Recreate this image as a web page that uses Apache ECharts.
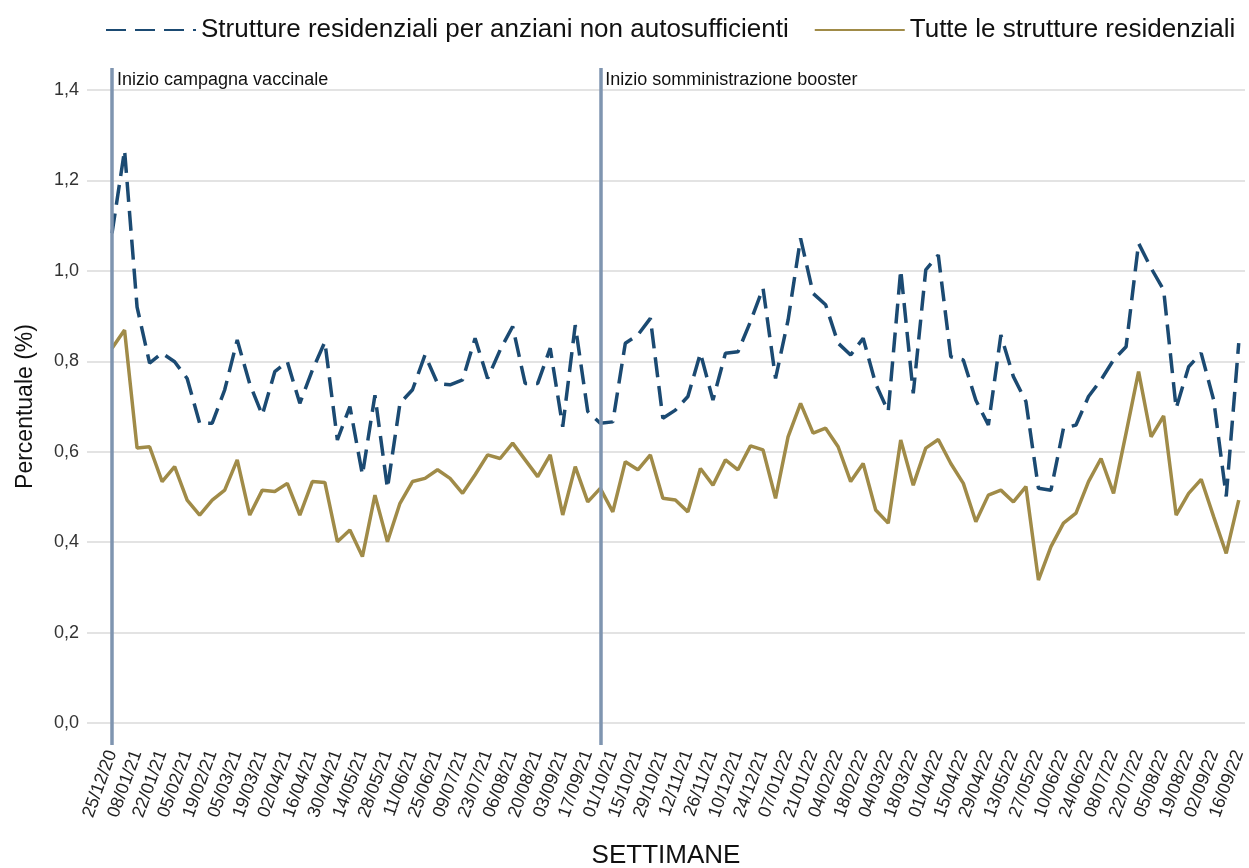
<!DOCTYPE html>
<html>
<head>
<meta charset="utf-8">
<script src="https://cdn.jsdelivr.net/npm/echarts@6/dist/echarts.min.js"></script>
<style>
  html, body { margin: 0; padding: 0; background: #fff; }
  #chart { width: 1249px; height: 868px; }
</style>
</head>
<body>
<div id="chart"></div>
<script>
// settimane (una ogni 7 giorni)
var weeks = [
  '25/12/20', '01/01/21', '08/01/21', '15/01/21', '22/01/21', '29/01/21', '05/02/21', '12/02/21', '19/02/21', '26/02/21',
  '05/03/21', '12/03/21', '19/03/21', '26/03/21', '02/04/21', '09/04/21', '16/04/21', '23/04/21', '30/04/21', '07/05/21',
  '14/05/21', '21/05/21', '28/05/21', '04/06/21', '11/06/21', '18/06/21', '25/06/21', '02/07/21', '09/07/21', '16/07/21',
  '23/07/21', '30/07/21', '06/08/21', '13/08/21', '20/08/21', '27/08/21', '03/09/21', '10/09/21', '17/09/21', '24/09/21',
  '01/10/21', '08/10/21', '15/10/21', '22/10/21', '29/10/21', '05/11/21', '12/11/21', '19/11/21', '26/11/21', '03/12/21',
  '10/12/21', '17/12/21', '24/12/21', '31/12/21', '07/01/22', '14/01/22', '21/01/22', '28/01/22', '04/02/22', '11/02/22',
  '18/02/22', '25/02/22', '04/03/22', '11/03/22', '18/03/22', '25/03/22', '01/04/22', '08/04/22', '15/04/22', '22/04/22',
  '29/04/22', '06/05/22', '13/05/22', '20/05/22', '27/05/22', '03/06/22', '10/06/22', '17/06/22', '24/06/22', '01/07/22',
  '08/07/22', '15/07/22', '22/07/22', '29/07/22', '05/08/22', '12/08/22', '19/08/22', '26/08/22', '02/09/22', '09/09/22',
  '16/09/22'
];

var anziani = [
  1.083, 1.267, 0.920, 0.796, 0.818, 0.799, 0.762, 0.663, 0.663, 0.737,
  0.847, 0.750, 0.681, 0.777, 0.799, 0.707, 0.780, 0.843, 0.626, 0.700,
  0.549, 0.725, 0.519, 0.707, 0.737, 0.814, 0.751, 0.748, 0.759, 0.851,
  0.762, 0.825, 0.877, 0.751, 0.751, 0.829, 0.655, 0.880, 0.689, 0.663,
  0.666, 0.840, 0.858, 0.895, 0.674, 0.692, 0.722, 0.818, 0.714, 0.818,
  0.821, 0.888, 0.962, 0.762, 0.891, 1.072, 0.950, 0.925, 0.840, 0.814,
  0.851, 0.750, 0.689, 1.002, 0.729, 1.002, 1.035, 0.810, 0.803, 0.714,
  0.659, 0.858, 0.766, 0.711, 0.519, 0.515, 0.652, 0.659, 0.722, 0.759,
  0.803, 0.832, 1.061, 1.006, 0.958, 0.696, 0.788, 0.818, 0.714, 0.501,
  0.840
];

var tutte = [
  0.829, 0.869, 0.608, 0.611, 0.534, 0.567, 0.493, 0.460, 0.493, 0.515,
  0.582, 0.460, 0.515, 0.512, 0.530, 0.460, 0.534, 0.532, 0.401, 0.427,
  0.368, 0.504, 0.401, 0.486, 0.534, 0.541, 0.560, 0.541, 0.508, 0.549,
  0.593, 0.585, 0.619, 0.582, 0.545, 0.593, 0.460, 0.567, 0.489, 0.519,
  0.467, 0.578, 0.560, 0.593, 0.497, 0.493, 0.467, 0.563, 0.526, 0.582,
  0.560, 0.613, 0.604, 0.497, 0.633, 0.707, 0.641, 0.652, 0.611, 0.534,
  0.574, 0.471, 0.442, 0.626, 0.526, 0.608, 0.627, 0.574, 0.530, 0.445,
  0.504, 0.515, 0.489, 0.523, 0.316, 0.390, 0.442, 0.464, 0.534, 0.585,
  0.508, 0.641, 0.777, 0.633, 0.679, 0.460, 0.508, 0.539, 0.456, 0.375,
  0.493
];

// eventi (indice della settimana)
var eventi = [
  { week: 0, label: 'Inizio campagna vaccinale' },
  { week: 39, label: 'Inizio somministrazione booster' }
];

var yTicks = [0, 0.2, 0.4, 0.6, 0.8, 1.0, 1.2, 1.4];

var FONT = 'Liberation Sans, Arial, sans-serif';
var BLU = '#1b4a72';
var ORO = '#a08b48';

function pairs(arr) {
  return arr.map(function (v, i) { return [i, v]; });
}

var chart = echarts.init(document.getElementById('chart'));

var option = {
  animation: false,
  backgroundColor: '#fff',
  textStyle: { fontFamily: FONT },
  legend: {
    left: 100,
    top: 12,
    itemWidth: 90,
    itemHeight: 14,
    itemGap: 25,
    itemStyle: { opacity: 0 },
    textStyle: { fontSize: 26, color: '#111', fontFamily: FONT },
    data: ['Strutture residenziali per anziani non autosufficienti', 'Tutte le strutture residenziali']
  },
  grid: [
    { left: 87, right: 4, top: 90, bottom: 145, outerBoundsMode: 'none', containLabel: false },
    { left: 87, right: 4, top: 68, bottom: 123, outerBoundsMode: 'none', containLabel: false }
  ],
  xAxis: [{
    gridIndex: 0,
    type: 'value',
    min: -2,
    max: 90.5,
    interval: 2,
    name: 'SETTIMANE',
    nameLocation: 'middle',
    nameGap: 120,
    nameTextStyle: { fontSize: 26, color: '#111', fontFamily: FONT },
    axisLine: { show: false },
    axisTick: { show: false },
    splitLine: { show: false },
    axisLabel: {
      rotate: 70,
      margin: 28,
      fontSize: 18,
      color: '#222',
      fontFamily: FONT,
      showMinLabel: true,
      showMaxLabel: true,
      formatter: function (v) {
        return Number.isInteger(v) && weeks[v] ? weeks[v] : '';
      }
    }
  }, {
    gridIndex: 1,
    type: 'value',
    min: -2,
    max: 90.5,
    show: false
  }],
  yAxis: [{
    gridIndex: 0,
    type: 'value',
    min: yTicks[0],
    max: yTicks[yTicks.length - 1],
    interval: 0.2,
    name: 'Percentuale (%)',
    nameLocation: 'middle',
    nameGap: 50,
    nameTextStyle: { fontSize: 23, color: '#111', fontFamily: FONT },
    axisLine: { show: false },
    axisTick: { show: false },
    splitLine: { lineStyle: { color: '#e3e3e3', width: 2 } },
    axisLabel: {
      margin: 8,
      fontSize: 18,
      color: '#333',
      fontFamily: FONT,
      formatter: function (v) { return v.toFixed(1).replace('.', ','); }
    }
  }, {
    gridIndex: 1,
    type: 'value',
    min: 0,
    max: 1,
    show: false
  }],
  series: [{
    name: 'eventi',
    type: 'line',
    xAxisIndex: 1,
    yAxisIndex: 1,
    data: [],
    silent: true,
    markLine: {
      silent: true,
      symbol: ['none', 'none'],
      lineStyle: { color: '#7f95b0', width: 3.5, type: 'solid' },
      label: {
        show: true,
        position: 'end',
        align: 'left',
        verticalAlign: 'top',
        distance: -3,
        padding: [0, 0, 0, 5],
        fontSize: 18,
        color: '#111',
        fontFamily: FONT,
        formatter: function (p) { return p.name; }
      },
      data: eventi.map(function (e) { return { name: e.label, xAxis: e.week }; })
    }
  }, {
    name: 'Strutture residenziali per anziani non autosufficienti',
    type: 'line',
    xAxisIndex: 0,
    yAxisIndex: 0,
    symbol: 'none',
    color: BLU,
    lineStyle: { color: BLU, width: 3.5, type: [20, 9] },
    data: pairs(anziani),
    z: 3
  }, {
    name: 'Tutte le strutture residenziali',
    type: 'line',
    xAxisIndex: 0,
    yAxisIndex: 0,
    symbol: 'none',
    color: ORO,
    lineStyle: { color: ORO, width: 3.5 },
    data: pairs(tutte),
    z: 2
  }]
};

chart.setOption(option);
</script>
</body>
</html>
